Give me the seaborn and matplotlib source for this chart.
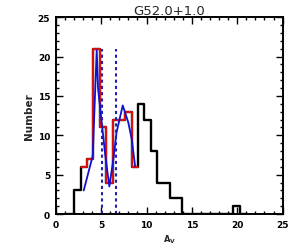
import numpy as np
import pandas as pd
import seaborn as sns
from matplotlib import pyplot as plt

# histogram bins (A_V), width ~0.7, with empty bins at both ends
edges = [round(1.35 + 0.7 * i, 2) for i in range(29)]
all_counts = [0, 3, 6, 7, 21, 11, 4, 12, 12, 13, 6, 14, 12, 8, 4, 4, 2, 2,
              0, 0, 0, 0, 0, 0, 0, 0, 1, 0]

# red subset histogram
red_edges = edges[2:12]
red_counts = [6, 7, 21, 11, 4, 12, 12, 13, 6]

# blue curve
blue_x = [3.08, 4.07, 4.51, 4.66, 5.46, 5.9, 6.35, 6.7, 7.38, 8.0, 8.37, 8.74]
blue_y = [3.0, 7.4, 20.8, 15.9, 7.4, 3.5, 7.0, 10.4, 13.8, 11.6, 9.5, 6.1]

# dashed markers
vlines_x = [5.07, 6.65]
vline_top = 21

sns.set_style("ticks")
plt.rcParams['font.family'] = ['DejaVu Sans']

fig = plt.figure(figsize=(3.0, 2.53), dpi=100)
ax = fig.add_axes([0.186, 0.150, 0.756, 0.778])

e = np.array(edges)
df_all = pd.DataFrame({"av": (e[:-1] + e[1:]) / 2, "n": all_counts})
sns.histplot(data=df_all, x="av", weights="n", bins=edges, element="step",
             fill=False, color="black", linewidth=1.7, ax=ax)

re = np.array(red_edges)
df_red = pd.DataFrame({"av": (re[:-1] + re[1:]) / 2, "n": red_counts})
sns.histplot(data=df_red, x="av", weights="n", bins=red_edges, element="step",
             fill=False, color="#e01010", linewidth=1.4, ax=ax)

sns.lineplot(x=blue_x, y=blue_y, color="#1010d0", linewidth=1.3, ax=ax,
             sort=False)

ax.vlines(vlines_x, 0, vline_top, colors="#2020b0", linestyles=(0, (1.5, 1.5)),
          linewidth=1.5)

ax.set_xlim(0, 25)
ax.set_ylim(0, 25)
ax.set_xticks([0, 5, 10, 15, 20, 25])
ax.set_yticks([0, 5, 10, 15, 20, 25])
ax.set_xticks(np.arange(0, 26, 1), minor=True)
ax.set_yticks(np.arange(0, 26, 1), minor=True)
ax.tick_params(which="both", direction="in", top=True, right=True,
               width=1.0, colors="black", labelsize=6.5, pad=4)
ax.tick_params(which="major", length=5)
ax.tick_params(which="minor", length=2.5)
for lab in ax.get_xticklabels() + ax.get_yticklabels():
    lab.set_fontweight("bold")
for s in ax.spines.values():
    s.set_linewidth(1.4)
    s.set_color("black")

ax.set_title("G52.0+1.0", fontsize=9.5, pad=2.5)
ax.set_xlabel(r"A$_\mathregular{V}$", fontsize=6, fontweight="bold", labelpad=3)
ax.set_ylabel("Number", fontsize=7.5, fontweight="bold", labelpad=3)

fig.savefig("out.png", dpi=100)
